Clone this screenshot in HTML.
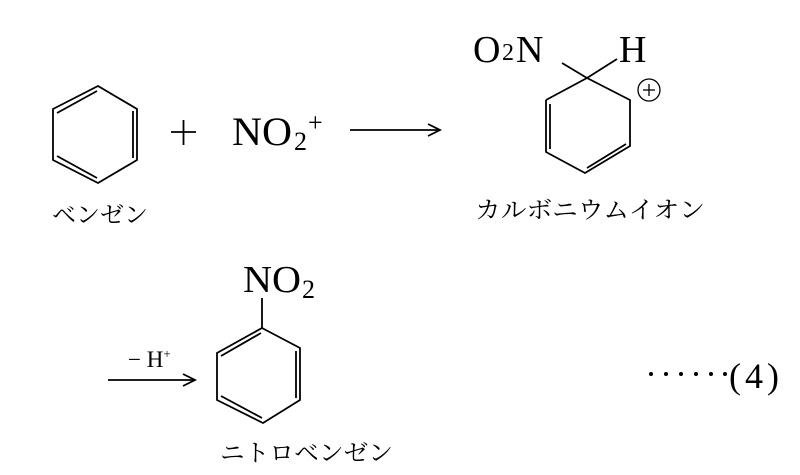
<!DOCTYPE html>
<html><head><meta charset="utf-8"><style>
html,body{margin:0;padding:0;background:#fff;}
svg{display:block;}
.s{font-family:"Liberation Serif",serif;fill:#000;}
.j{font-family:"Liberation Serif","Noto Serif CJK SC","Noto Sans CJK JP",serif;fill:#000;font-size:24px;}
</style></head><body>
<svg width="800" height="475" viewBox="0 0 800 475" xmlns="http://www.w3.org/2000/svg">
<g stroke="#000" stroke-width="1.8" fill="none">
<polygon points="98,86 137,109 137,160 98,183 53,160 53,109"/>
<line x1="97" y1="91" x2="57" y2="113"/>
<line x1="133" y1="111" x2="133" y2="158"/>
<line x1="57" y1="156" x2="97" y2="178"/>
<line x1="171" y1="132" x2="196" y2="132"/>
<line x1="183.5" y1="120" x2="183.5" y2="145"/>
<line x1="350" y1="130" x2="438" y2="130"/>
<path d="M428,124 L440,130 L428,136"/>
<polyline points="546,100 587,78 630,100 630,146 585,173 546,152 546,100"/>
<line x1="550" y1="104" x2="550" y2="149"/>
<line x1="587" y1="168" x2="626" y2="144"/>
<line x1="562" y1="63" x2="587" y2="78"/>
<line x1="587" y1="78" x2="617" y2="59"/>
<circle cx="649" cy="90" r="11" stroke-width="1.3"/>
<line x1="643" y1="90" x2="655" y2="90" stroke-width="1.3"/>
<line x1="649" y1="84" x2="649" y2="96" stroke-width="1.3"/>
<line x1="108" y1="380" x2="193" y2="380"/>
<path d="M183,374 L195,380 L183,386"/>
<polygon points="262,328 300,348 300,400 263,423 217,400 217,353"/>
<line x1="262" y1="298" x2="262" y2="328"/>
<line x1="261" y1="333" x2="221" y2="356"/>
<line x1="296" y1="351" x2="296" y2="398"/>
<line x1="221" y1="396" x2="262" y2="418"/>
</g>
<text class="s" x="232" y="145" font-size="40" textLength="60" lengthAdjust="spacingAndGlyphs">NO</text>
<text class="s" x="294" y="150" font-size="26">2</text>
<text class="s" x="308" y="131" font-size="26">+</text>
<text class="s" x="473" y="62" font-size="38">O</text>
<text class="s" x="502" y="60" font-size="24">2</text>
<text class="s" x="516" y="62" font-size="38">N</text>
<text class="s" x="619" y="62" font-size="38">H</text>
<text class="s" x="243" y="292" font-size="38" textLength="58" lengthAdjust="spacingAndGlyphs">NO</text>
<text class="s" x="302" y="298" font-size="26">2</text>
<text class="s" x="128" y="367" font-size="23">− H<tspan font-size="13" dy="-9">+</tspan></text>
<g fill="#000"><circle cx="651" cy="374" r="2"/><circle cx="666" cy="374" r="2"/><circle cx="681" cy="374" r="2"/><circle cx="696" cy="374" r="2"/><circle cx="711" cy="374" r="2"/><circle cx="725" cy="374" r="2"/></g>
<text class="s" x="729" y="388" font-size="36" letter-spacing="4">(4)</text>
<text class="j" x="52" y="223" textLength="96" lengthAdjust="spacingAndGlyphs">ベンゼン</text>
<text class="j" x="475" y="218" textLength="230" lengthAdjust="spacingAndGlyphs">カルボニウムイオン</text>
<text class="j" x="220" y="461" textLength="173" lengthAdjust="spacingAndGlyphs">ニトロベンゼン</text>
</svg>
</body></html>
